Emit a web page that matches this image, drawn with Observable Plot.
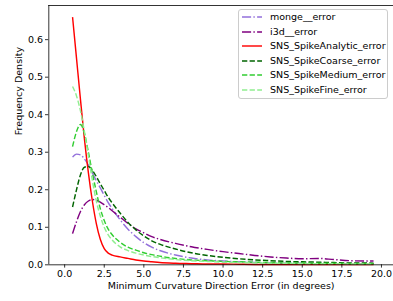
<!DOCTYPE html>
<html>
<head>
<meta charset="utf-8">
<script src="https://cdn.jsdelivr.net/npm/d3@7"></script>
<script src="https://cdn.jsdelivr.net/npm/@observablehq/plot@0.6"></script>
<style>
  html, body { margin: 0; padding: 0; background: white; overflow: hidden; }
  #wrap { position: relative; width: 393px; height: 301px; font-family: "DejaVu Sans", sans-serif; }
  #legend-box { position: absolute; left: 238px; top: 9px; width: 150px; height: 90px; box-sizing: border-box;
    border: 1px solid #cccccc; border-radius: 3px; background: rgba(255,255,255,0.8); }
  .lg-row { position: absolute; height: 14px; line-height: 14px; font-size: 9.5px; color: black; white-space: nowrap; }
</style>
</head>
<body>
<div id="wrap"></div>
<script>
// ---- data ----
const xValues = [0.5, 0.75, 1, 1.25, 1.5, 1.75, 2, 2.25, 2.5, 2.75, 3, 3.5, 4, 4.5, 5, 5.5, 6, 7, 8, 9, 10, 11, 12, 13, 14, 15, 16, 17, 18, 19, 19.5];

const mongeError = [0.287, 0.295, 0.293, 0.282, 0.266, 0.245, 0.224, 0.205, 0.185, 0.166, 0.150, 0.120, 0.095, 0.075, 0.059, 0.047, 0.038, 0.026, 0.018, 0.013, 0.010, 0.008, 0.006, 0.005, 0.004, 0.004, 0.003, 0.003, 0.003, 0.002, 0.002];
const i3dError = [0.083, 0.115, 0.142, 0.160, 0.170, 0.174, 0.172, 0.167, 0.160, 0.153, 0.144, 0.127, 0.110, 0.096, 0.085, 0.075, 0.068, 0.057, 0.048, 0.041, 0.035, 0.030, 0.025, 0.021, 0.018, 0.016, 0.017, 0.014, 0.011, 0.010, 0.010];
const spikeAnalyticError = [0.660, 0.550, 0.440, 0.335, 0.245, 0.170, 0.110, 0.068, 0.043, 0.031, 0.026, 0.021, 0.017, 0.013, 0.010, 0.008, 0.006, 0.004, 0.003, 0.002, 0.002, 0.0015, 0.001, 0.001, 0.001, 0.001, 0.001, 0.001, 0.001, 0.001, 0.001];
const spikeCoarseError = [0.154, 0.200, 0.240, 0.260, 0.262, 0.252, 0.235, 0.216, 0.198, 0.180, 0.165, 0.138, 0.113, 0.093, 0.077, 0.064, 0.055, 0.042, 0.032, 0.025, 0.020, 0.016, 0.013, 0.011, 0.009, 0.008, 0.007, 0.006, 0.005, 0.005, 0.004];
const spikeMediumError = [0.315, 0.355, 0.374, 0.350, 0.300, 0.245, 0.195, 0.150, 0.118, 0.095, 0.080, 0.060, 0.047, 0.039, 0.032, 0.027, 0.023, 0.017, 0.013, 0.011, 0.009, 0.008, 0.007, 0.006, 0.005, 0.005, 0.004, 0.004, 0.003, 0.003, 0.003];
const spikeFineError = [0.475, 0.450, 0.410, 0.355, 0.290, 0.225, 0.170, 0.130, 0.100, 0.080, 0.066, 0.048, 0.038, 0.031, 0.026, 0.022, 0.019, 0.014, 0.011, 0.009, 0.007, 0.006, 0.005, 0.004, 0.004, 0.003, 0.003, 0.003, 0.002, 0.002, 0.002];

const seriesNames = ["monge__error", "i3d__error", "SNS_SpikeAnalytic_error", "SNS_SpikeCoarse_error", "SNS_SpikeMedium_error", "SNS_SpikeFine_error"];
const seriesValues = [mongeError, i3dError, spikeAnalyticError, spikeCoarseError, spikeMediumError, spikeFineError];
const seriesColors = ["#9370DB", "#800080", "#FF0000", "#006400", "#32CD32", "#90EE90"];
const seriesDashes = ["9.1,2.3,1.4,2.3", "9.1,2.3,1.4,2.3", "none", "5.3,2.3", "5.3,2.3", "5.3,2.3"];

const xTicks = [0, 2.5, 5, 7.5, 10, 12.5, 15, 17.5, 20];
const yTicks = [0, 0.1, 0.2, 0.3, 0.4, 0.5, 0.6];
const xDomain = [-1, 20.76];
const yDomain = [0, 0.691];
const xLabel = "Minimum Curvature Direction Error (in degrees)";
const yLabel = "Frequency Density";

// ---- build ----
const lineMarks = seriesNames.map((name, i) => {
  const rows = xValues.map((x, j) => ({x, y: seriesValues[i][j], series: name}));
  return Plot.line(rows, {
    x: "x", y: "y", stroke: seriesColors[i], strokeWidth: 1.43,
    strokeDasharray: seriesDashes[i], strokeLinecap: "butt", curve: "monotone-x"
  });
});

const chart = Plot.plot({
  width: 393, height: 301,
  marginLeft: 48.3, marginRight: 0, marginTop: 5, marginBottom: 36.7,
  style: {fontFamily: "DejaVu Sans, sans-serif", fontSize: "9.5px", color: "black", background: "white"},
  x: {domain: xDomain},
  y: {domain: yDomain},
  marks: [
    ...lineMarks,
    Plot.ruleY([yDomain[0]], {stroke: "black", strokeWidth: 0.8}),
    Plot.ruleY([yDomain[1]], {stroke: "black", strokeWidth: 0.8}),
    Plot.ruleX([xDomain[0]], {stroke: "black", strokeWidth: 0.8}),
    Plot.axisX({ticks: xTicks, tickFormat: d3.format(".1f"), tickSize: 3.3, tickPadding: 2.5, strokeWidth: 0.8, label: null}),
    Plot.axisY({ticks: yTicks, tickFormat: d3.format(".1f"), tickSize: 3.3, tickPadding: 2.5, strokeWidth: 0.8, label: null}),
    Plot.text([xLabel], {frameAnchor: "bottom", dy: 24.5, fontSize: 9.5, fill: "black"}),
    Plot.text([yLabel], {frameAnchor: "left", dx: -30, rotate: -90, fontSize: 9.5, fill: "black"})
  ]
});

const wrap = document.getElementById("wrap");
wrap.appendChild(chart);

// ---- legend ----
const box = document.createElement("div");
box.id = "legend-box";
wrap.appendChild(box);
seriesNames.forEach((name, i) => {
  const cy = 17 + i * 14.6;
  const sw = document.createElementNS("http://www.w3.org/2000/svg", "svg");
  sw.setAttribute("width", 20); sw.setAttribute("height", 6);
  sw.style.position = "absolute"; sw.style.left = "242px"; sw.style.top = (cy - 3) + "px";
  const ln = document.createElementNS("http://www.w3.org/2000/svg", "line");
  ln.setAttribute("x1", 0); ln.setAttribute("x2", 20); ln.setAttribute("y1", 3); ln.setAttribute("y2", 3);
  ln.setAttribute("stroke", seriesColors[i]); ln.setAttribute("stroke-width", 1.43);
  if (seriesDashes[i] !== "none") ln.setAttribute("stroke-dasharray", seriesDashes[i]);
  sw.appendChild(ln);
  wrap.appendChild(sw);
  const t = document.createElement("div");
  t.className = "lg-row";
  t.style.left = "270px"; t.style.top = (cy - 7) + "px";
  t.textContent = name;
  wrap.appendChild(t);
});
</script>
</body>
</html>
